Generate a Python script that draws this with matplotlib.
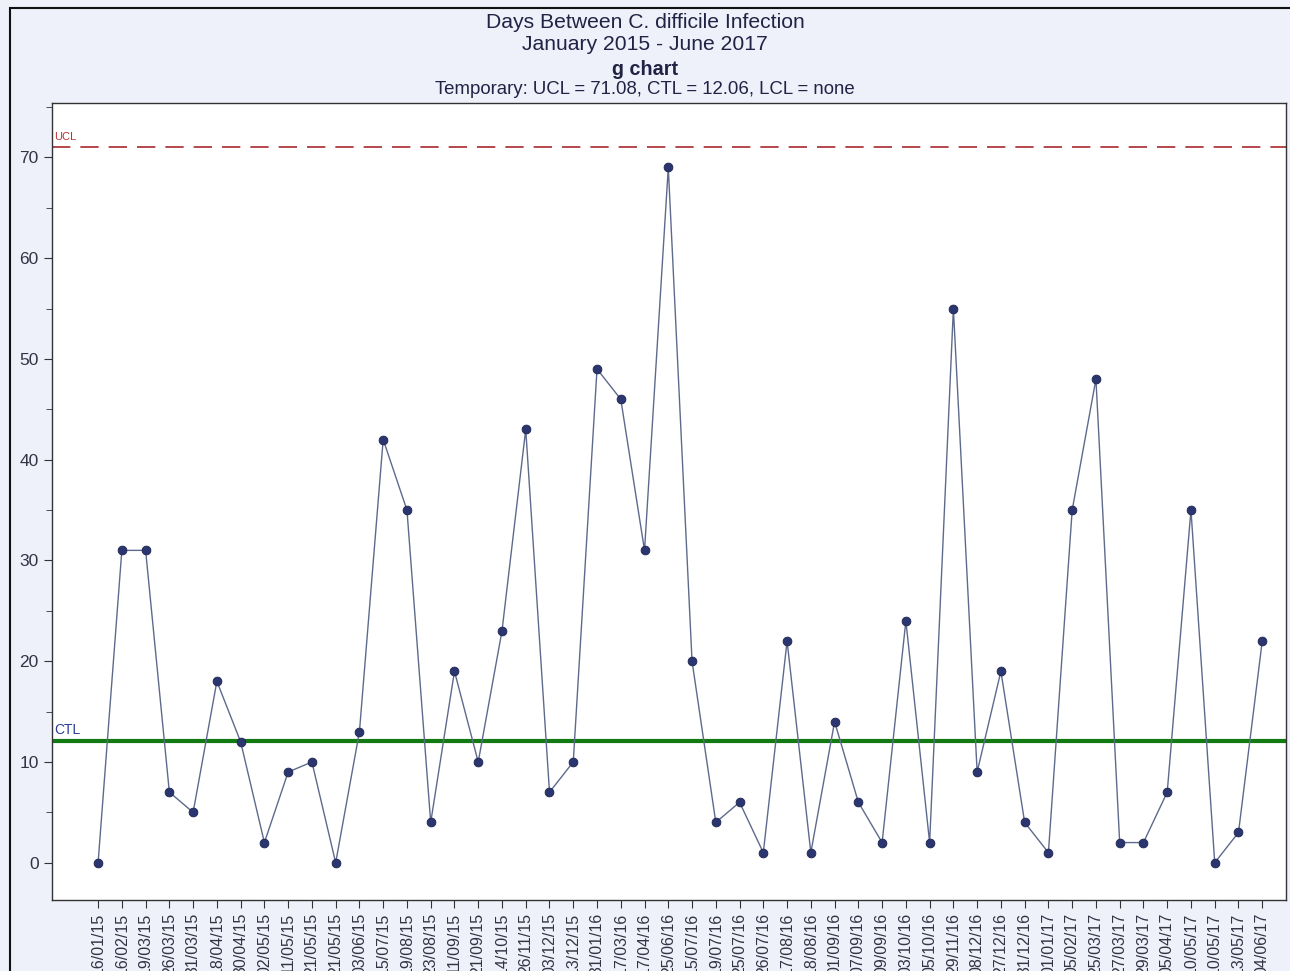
import matplotlib
matplotlib.use("Agg")
import matplotlib.pyplot as plt
from matplotlib.patches import Rectangle
from matplotlib.ticker import MultipleLocator

plt.rcParams["font.family"] = ["Liberation Sans", "DejaVu Sans"]

dates = [
    "16/01/15", "16/02/15", "19/03/15", "26/03/15", "31/03/15", "18/04/15",
    "30/04/15", "02/05/15", "11/05/15", "21/05/15", "21/05/15", "03/06/15",
    "15/07/15", "19/08/15", "23/08/15", "11/09/15", "21/09/15", "14/10/15",
    "26/11/15", "03/12/15", "13/12/15", "31/01/16", "17/03/16", "17/04/16",
    "25/06/16", "15/07/16", "19/07/16", "25/07/16", "26/07/16", "17/08/16",
    "18/08/16", "01/09/16", "07/09/16", "09/09/16", "03/10/16", "05/10/16",
    "29/11/16", "08/12/16", "27/12/16", "31/12/16", "01/01/17", "05/02/17",
    "25/03/17", "27/03/17", "29/03/17", "05/04/17", "10/05/17", "10/05/17",
    "13/05/17", "04/06/17",
]
days = [
    0, 31, 31, 7, 5, 18, 12, 2, 9, 10, 0, 13, 42, 35, 4, 19, 10, 23, 43, 7,
    10, 49, 46, 31, 69, 20, 4, 6, 1, 22, 1, 14, 6, 2, 24, 2, 55, 9, 19, 4,
    1, 35, 48, 2, 2, 7, 35, 0, 3, 22,
]
ucl = 71.08
ctl = 12.06

BG = "#eef0fa"

fig = plt.figure(figsize=(12.9, 9.71), dpi=100, facecolor=BG)
# outer frame of the exported chart (top/left edges visible)
fig.patches.append(Rectangle((10 / 1290, -0.1), 1.2, 1 - 8 / 971 + 0.1,
                             transform=fig.transFigure, fill=False,
                             edgecolor="#111111", linewidth=1.5))

ax = fig.add_axes([52 / 1290, 1 - 900 / 971, (1286 - 52) / 1290, (900 - 103) / 971])
ax.set_facecolor("white")

x = list(range(len(days)))
ax.plot(x, days, color="#5e6a8c", linewidth=1.0, zorder=3)
ax.scatter(x, days, s=40, color="#2b3670", edgecolor="#1c2450", linewidth=0.6, zorder=4)

ax.axhline(ucl, color="#a82830", linestyle=(0, (11, 6)), linewidth=1.2, zorder=2)
ax.axhline(ctl, color="#137a13", linewidth=3, zorder=2)
ax.text(0.002, ucl + 0.4, "UCL", transform=ax.get_yaxis_transform(),
        color="#c03030", fontsize=8, va="bottom", ha="left")
ax.text(0.002, ctl + 0.4, "CTL", transform=ax.get_yaxis_transform(),
        color="#2a3a9a", fontsize=10, va="bottom", ha="left")

ax.set_xlim(-1.94, 50.0)
ax.set_ylim(-3.7, 75.4)
ax.yaxis.set_major_locator(MultipleLocator(10))
ax.yaxis.set_minor_locator(MultipleLocator(5))
ax.set_yticks(range(0, 71, 10))
ax.tick_params(axis="y", which="major", length=6, labelsize=12.5, colors="#333333",
               labelcolor="#333344")
ax.tick_params(axis="y", which="minor", length=4, color="#333333")
ax.set_xticks(x)
ax.set_xticklabels(dates, rotation=90, fontsize=11.5, color="#333344")
ax.tick_params(axis="x", length=6, pad=3, color="#333333")
for s in ax.spines.values():
    s.set_color("#333333")
    s.set_linewidth(1.0)

tc = "#222244"
fig.text(0.5, 1 - 22 / 971, "Days Between C. difficile Infection", ha="center", va="center",
         fontsize=15.2, color=tc)
fig.text(0.5, 1 - 45 / 971, "January 2015 - June 2017", ha="center", va="center",
         fontsize=15.2, color=tc)
fig.text(0.5, 1 - 69 / 971, "g chart", ha="center", va="center",
         fontsize=14.2, fontweight="bold", color=tc)
fig.text(0.5, 1 - 89 / 971, "Temporary: UCL = 71.08, CTL = 12.06, LCL = none",
         ha="center", va="center", fontsize=13.4, color=tc)

fig.savefig("out.png", dpi=100, facecolor=BG)
